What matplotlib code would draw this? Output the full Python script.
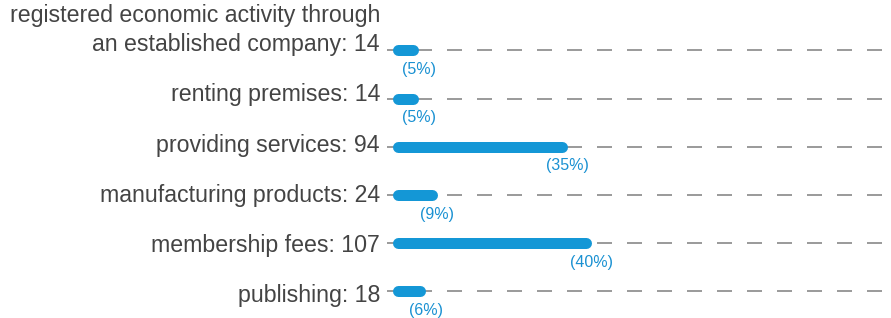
import matplotlib.pyplot as plt

plt.rcParams['font.family'] = ['Liberation Sans', 'DejaVu Sans']
plt.rcParams['lines.scale_dashes'] = False

categories = [
    "registered economic activity through\nan established company",
    "renting premises",
    "providing services",
    "manufacturing products",
    "membership fees",
    "publishing",
]
counts = [14, 14, 94, 24, 107, 18]
shares = [5, 5, 35, 9, 40, 6]

BAR_COLOR = '#1497d6'
TEXT_COLOR = '#444444'
PCT_COLOR = '#1a91d2'

W, H = 891, 318
px_per_unit = 1.86   # horizontal scale
x0_px = 392.5        # left edge of bars
row0_px, row_step = 50.4, 48.2   # bar rows
lab0_px, lab_step = 51.2, 50.2   # label baselines (spaced a bit wider)
PT = 0.72  # points per pixel at 100 dpi

fig = plt.figure(figsize=(W / 100, H / 100), dpi=100)
ax_left, ax_right = 381, 891
ax = fig.add_axes([ax_left / W, 0, (ax_right - ax_left) / W, 1])
ax.set_xlim((ax_left - x0_px) / px_per_unit, (ax_right - x0_px) / px_per_unit)
ax.set_ylim(H, 0)
ax.axis('off')

bar_px = 11
cap = bar_px / 2 / px_per_unit  # round cap length in data units
xmax = ax.get_xlim()[1]
dash_start = (387 - x0_px) / px_per_unit

for i, (cat, n, pct) in enumerate(zip(categories, counts, shares)):
    y = row0_px + row_step * i
    # dashed guide line
    ax.plot([dash_start, xmax], [y, y], color='#9a9a9a', lw=1.4,
            dashes=(10.8, 10.8), zorder=1, solid_capstyle='butt')
    # rounded bar
    ax.plot([cap, n - cap], [y, y], color=BAR_COLOR, lw=bar_px * PT,
            solid_capstyle='round', zorder=2)
    # category label (last line on baseline near the bar)
    base = lab0_px + lab_step * i
    lines = f"{cat}: {n}".split("\n")
    for k, line in enumerate(reversed(lines)):
        ax.annotate(line, xy=(0, y), xytext=(-12.5 * PT, (y - base + k * 29) * PT),
                    textcoords='offset points', ha='right', va='baseline',
                    fontsize=16.7, color=TEXT_COLOR,
                    annotation_clip=False)
    # percentage under bar end
    ax.annotate(f"({pct}%)", xy=(n, y), xytext=(0, -19 * PT),
                textcoords='offset points', ha='center', va='center',
                fontsize=11.5, color=PCT_COLOR, annotation_clip=False)

fig.savefig('out.png', dpi=100)
